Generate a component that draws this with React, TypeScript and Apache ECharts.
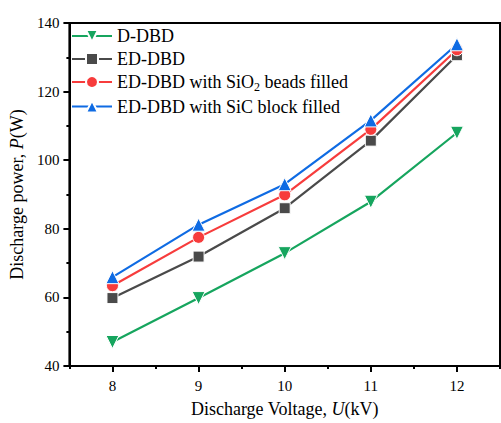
import React, { useEffect, useRef } from "react";
import * as echarts from "echarts";

const voltages = ["8", "9", "10", "11", "12"];
const dDBD = [47, 59.8, 72.9, 87.9, 108];
const edDBD = [59.8, 71.9, 86, 105.7, 130.6];
const sio2 = [63.4, 77.5, 89.9, 109, 132.2];
const sic = [65.9, 81.2, 93, 111.6, 133.8];
const yTicks = { min: 40, max: 140, interval: 20 };

const FONT = "Liberation Serif";

export default function App() {
  const ref = useRef<HTMLDivElement>(null);
  useEffect(() => {
    const chart = echarts.init(ref.current!, null, { renderer: "svg" });
    const mk = (name: string, data: number[], color: string, symbol: string, rotate = 0, size = 12) => ({
      name,
      type: "line",
      data,
      symbol,
      symbolRotate: rotate,
      symbolSize: size,
      lineStyle: { color, width: 2.2 },
      itemStyle: { color, borderColor: "#fff", borderWidth: 1 },
      z: 3,
    });
    chart.setOption({
      animation: false,
      textStyle: { fontFamily: FONT },
      grid: {
        left: 65,
        right: 1,
        top: 23,
        bottom: 54,
        show: true,
        borderColor: "#000",
        borderWidth: 2,
        containLabel: false,
      },
      legend: {
        orient: "vertical",
        left: 66,
        top: 22,
        itemWidth: 40,
        itemHeight: 15,
        itemGap: 5,
        data: ["D-DBD", "ED-DBD", "SiO2", "SiC"],
        formatter: (n: string) => {
          if (n === "SiO2") return "ED-DBD with SiO{sub|2} beads filled";
          if (n === "SiC") return "ED-DBD with SiC block filled";
          return n;
        },
        textStyle: {
          fontFamily: FONT,
          fontSize: 18,
          color: "#000",
          rich: {
            sub: { fontSize: 12, fontFamily: FONT, verticalAlign: "bottom", padding: [9, 0, 0, 0], color: "#000" },
          },
        },
      },
      xAxis: [
        {
          type: "category",
          data: voltages,
          boundaryGap: true,
          name: "Discharge Voltage, {i|U}(kV)",
          nameLocation: "middle",
          nameGap: 34,
          nameTextStyle: {
            fontFamily: FONT,
            fontSize: 18,
            color: "#000",
            rich: { i: { fontStyle: "italic", fontFamily: FONT, fontSize: 18, color: "#000" } },
          },
          axisLine: { show: true, lineStyle: { color: "#000", width: 2 } },
          axisTick: { show: true, alignWithLabel: true, length: 6, lineStyle: { color: "#000", width: 2 } },
          axisLabel: { color: "#000", fontSize: 15, fontFamily: FONT, margin: 12 },
          splitLine: { show: false },
        },
        {
          type: "category",
          data: voltages,
          boundaryGap: true,
          position: "bottom",
          axisLine: { show: false },
          axisTick: { show: true, alignWithLabel: false, length: 3, lineStyle: { color: "#000", width: 2 } },
          axisLabel: { show: false },
          splitLine: { show: false },
        },
      ],
      yAxis: {
        type: "value",
        min: yTicks.min,
        max: yTicks.max,
        interval: yTicks.interval,
        name: "Discharge power, {i|P}(W)",
        nameLocation: "middle",
        nameGap: 39,
        nameTextStyle: {
          fontFamily: FONT,
          fontSize: 18,
          color: "#000",
          rich: { i: { fontStyle: "italic", fontFamily: FONT, fontSize: 18, color: "#000" } },
        },
        axisLine: { show: true, lineStyle: { color: "#000", width: 2 } },
        axisTick: { show: true, length: 6, lineStyle: { color: "#000", width: 2 } },
        minorTick: { show: true, splitNumber: 2, length: 3, lineStyle: { color: "#000", width: 2 } },
        axisLabel: { color: "#000", fontSize: 15, fontFamily: FONT, margin: 10 },
        splitLine: { show: false },
      },
      series: [
        mk("D-DBD", dDBD, "#16a55e", "triangle", 180, 13),
        mk("ED-DBD", edDBD, "#4a4a4a", "rect", 0, 11),
        mk("SiO2", sio2, "#f73c3c", "circle", 0, 12),
        mk("SiC", sic, "#0f6be3", "triangle", 0, 13),
      ],
    });
    return () => chart.dispose();
  }, []);
  return <div ref={ref} style={{ width: 501, height: 423, position: "absolute", left: 0, top: 0 }} />;
}
